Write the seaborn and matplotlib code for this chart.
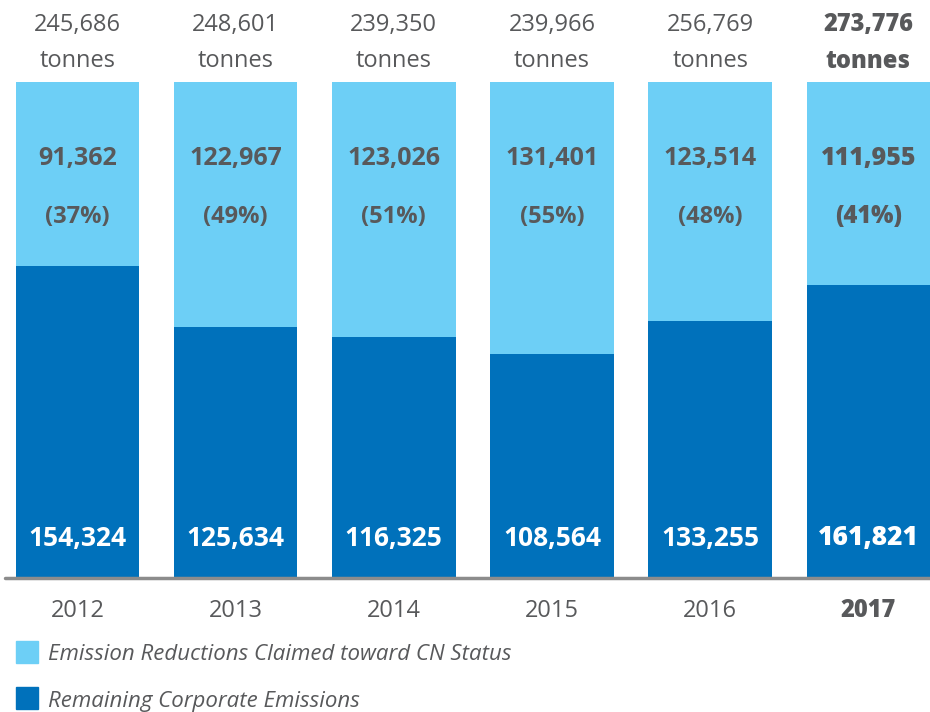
import matplotlib
matplotlib.use("Agg")
import matplotlib.pyplot as plt
from matplotlib.patches import Rectangle
import seaborn as sns
import pandas as pd

# data
years = ["2012", "2013", "2014", "2015", "2016", "2017"]
claimed = [91362, 122967, 123026, 131401, 123514, 111955]
remaining = [154324, 125634, 116325, 108564, 133255, 161821]
totals = [245686, 248601, 239350, 239966, 256769, 273776]
claimed_pct = ["37%", "49%", "51%", "55%", "48%", "41%"]

light = "#6DCFF6"
dark = "#0071BB"
grey = "#58595B"

df = pd.DataFrame({"year": years, "claimed": claimed, "remaining": remaining, "total": totals})
df["full"] = (df["claimed"] + df["remaining"]) / df["total"]
df["rem_share"] = df["remaining"] / df["total"]

sns.set_style("white")
plt.rcParams["font.family"] = ["Open Sans", "DejaVu Sans"]

fig = plt.figure(figsize=(9.3, 7.12), dpi=100)
ax = fig.add_axes([0, 134 / 712, 1, 496 / 712])

sns.barplot(data=df, x="year", y="full", color=light, width=0.78, saturation=1,
            linewidth=0, ax=ax)
sns.barplot(data=df, x="year", y="rem_share", color=dark, width=0.78, saturation=1,
            linewidth=0, ax=ax)

ax.set_xlim(-0.49, 5.39)
ax.set_ylim(0, 1)
ax.axis("off")
ax.axhline(0, xmin=0.005, xmax=1, color="#8C8C8C", lw=2.5, clip_on=False, zorder=5)

for i, yr in enumerate(years):
    last = i == len(years) - 1
    wt = "heavy" if last else "normal"
    bw = "heavy" if last else "bold"
    ax.text(i, 1.115, f"{totals[i]:,}", ha="center", va="center", fontsize=17,
            color=grey, fontweight=wt, clip_on=False)
    ax.text(i, 1.042, "tonnes", ha="center", va="center", fontsize=17,
            color=grey, fontweight=wt, clip_on=False)
    ax.text(i, 0.845, f"{claimed[i]:,}", ha="center", va="center", fontsize=18,
            color=grey, fontweight=bw)
    ax.text(i, 0.728, f"({claimed_pct[i]})", ha="center", va="center", fontsize=17,
            color=grey, fontweight=bw)
    ax.text(i, 0.08, f"{remaining[i]:,}", ha="center", va="center", fontsize=19,
            color="white", fontweight=bw)
    ax.text(i, -0.066, yr, ha="center", va="center", fontsize=17,
            color=grey, fontweight=wt, clip_on=False)

# legend drawn by hand
for ypx, col, lab in [(652, light, "Emission Reductions Claimed toward CN Status"),
                      (698, dark, "Remaining Corporate Emissions")]:
    fig.add_artist(Rectangle((16 / 930, (712 - ypx - 11) / 712), 22 / 930, 22 / 712,
                             transform=fig.transFigure, color=col))
    fig.text(48 / 930, (712 - ypx - 3) / 712, lab, ha="left", va="center", fontsize=16,
             style="italic", color=grey)

fig.savefig("out.png", dpi=100)
